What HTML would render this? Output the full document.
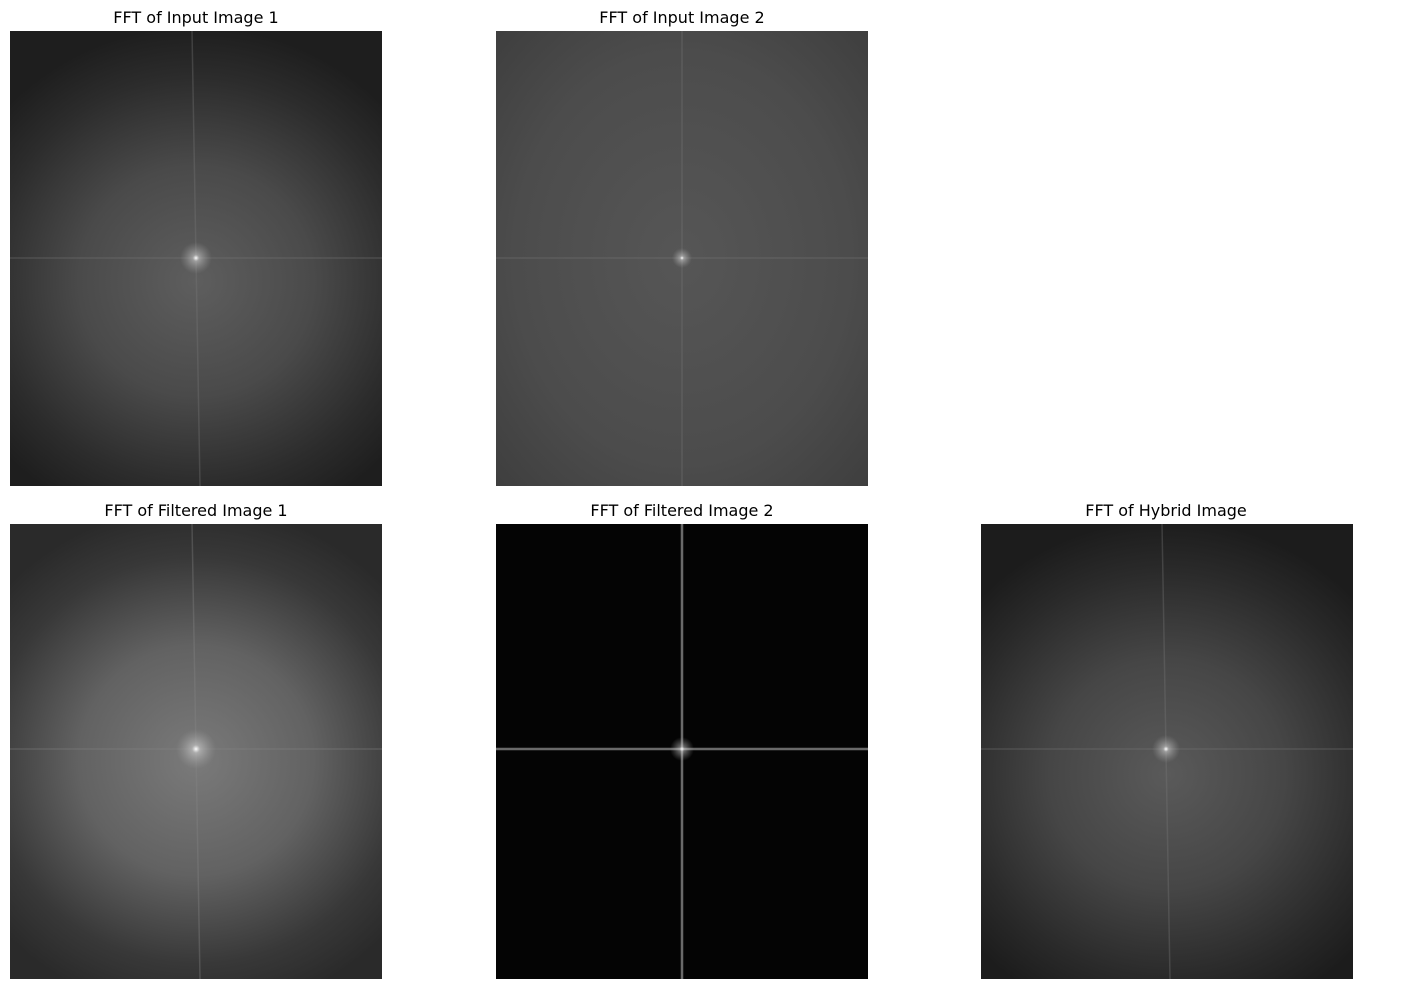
<!DOCTYPE html>
<html><head><meta charset="utf-8"><style>
body{margin:0;background:#fff;}
svg{display:block;font-family:"DejaVu Sans","Liberation Sans",sans-serif;}
</style></head><body>
<svg width="1426" height="989" viewBox="0 0 1426 989">
<defs>
<radialGradient id="g1" cx="0.5" cy="0.55" r="0.7" gradientTransform="translate(0.5,0.55) scale(1,0.8) translate(-0.5,-0.55)">
<stop offset="0" stop-color="#5e5e5e"/><stop offset="0.45" stop-color="#4a4a4a"/><stop offset="0.8" stop-color="#2c2c2c"/><stop offset="1" stop-color="#1e1e1e"/></radialGradient>
<radialGradient id="g2" cx="0.5" cy="0.5" r="0.75">
<stop offset="0" stop-color="#565656"/><stop offset="0.6" stop-color="#4c4c4c"/><stop offset="1" stop-color="#3c3c3c"/></radialGradient>
<radialGradient id="g4" cx="0.5" cy="0.52" r="0.7" gradientTransform="translate(0.5,0.52) scale(1,0.8) translate(-0.5,-0.52)">
<stop offset="0" stop-color="#7a7a7a"/><stop offset="0.45" stop-color="#626262"/><stop offset="0.8" stop-color="#383838"/><stop offset="1" stop-color="#2a2a2a"/></radialGradient>
<radialGradient id="g6" cx="0.5" cy="0.55" r="0.7" gradientTransform="translate(0.5,0.55) scale(1,0.8) translate(-0.5,-0.55)">
<stop offset="0" stop-color="#5a5a5a"/><stop offset="0.45" stop-color="#464646"/><stop offset="0.8" stop-color="#2a2a2a"/><stop offset="1" stop-color="#1c1c1c"/></radialGradient>
<radialGradient id="spot"><stop offset="0" stop-color="#fff" stop-opacity="1"/><stop offset="0.2" stop-color="#ddd" stop-opacity="0.5"/><stop offset="1" stop-color="#aaa" stop-opacity="0"/></radialGradient>
</defs>

<g>
<text x="196" y="23" text-anchor="middle" font-size="16">FFT of Input Image 1</text>
<rect x="10" y="31" width="372" height="455" fill="url(#g1)"/>
<line x1="10" y1="258" x2="382" y2="258" stroke="#777" stroke-opacity="0.35" stroke-width="1.5"/>
<line x1="192" y1="31" x2="200" y2="486" stroke="#777" stroke-opacity="0.35" stroke-width="1.5"/>
<circle cx="196" cy="258" r="16" fill="url(#spot)"/>
</g>

<g>
<text x="682" y="23" text-anchor="middle" font-size="16">FFT of Input Image 2</text>
<rect x="496" y="31" width="372" height="455" fill="url(#g2)"/>
<line x1="496" y1="258" x2="868" y2="258" stroke="#777" stroke-opacity="0.35" stroke-width="1.5"/>
<line x1="682" y1="31" x2="682" y2="486" stroke="#777" stroke-opacity="0.35" stroke-width="1.5"/>
<circle cx="682" cy="258" r="10" fill="url(#spot)"/>
</g>

<g>
<text x="196" y="516" text-anchor="middle" font-size="16">FFT of Filtered Image 1</text>
<rect x="10" y="524" width="372" height="455" fill="url(#g4)"/>
<line x1="10" y1="749" x2="382" y2="749" stroke="#888" stroke-opacity="0.35" stroke-width="1.5"/>
<line x1="192" y1="524" x2="200" y2="979" stroke="#888" stroke-opacity="0.35" stroke-width="1.5"/>
<circle cx="196" cy="749" r="20" fill="url(#spot)"/>
</g>

<g>
<text x="682" y="516" text-anchor="middle" font-size="16">FFT of Filtered Image 2</text>
<rect x="496" y="524" width="372" height="455" fill="#040404"/>
<line x1="496" y1="749" x2="868" y2="749" stroke="#6a6a6a" stroke-width="2.5"/>
<line x1="682" y1="524" x2="682" y2="979" stroke="#6a6a6a" stroke-width="2.5"/>
<circle cx="682" cy="749" r="12" fill="url(#spot)"/>
</g>

<g>
<text x="1166" y="516" text-anchor="middle" font-size="16">FFT of Hybrid Image</text>
<rect x="981" y="524" width="372" height="455" fill="url(#g6)"/>
<line x1="981" y1="749" x2="1353" y2="749" stroke="#777" stroke-opacity="0.35" stroke-width="1.5"/>
<line x1="1162" y1="524" x2="1170" y2="979" stroke="#777" stroke-opacity="0.35" stroke-width="1.5"/>
<circle cx="1166" cy="749" r="14" fill="url(#spot)"/>
</g>
</svg>
</body></html>
